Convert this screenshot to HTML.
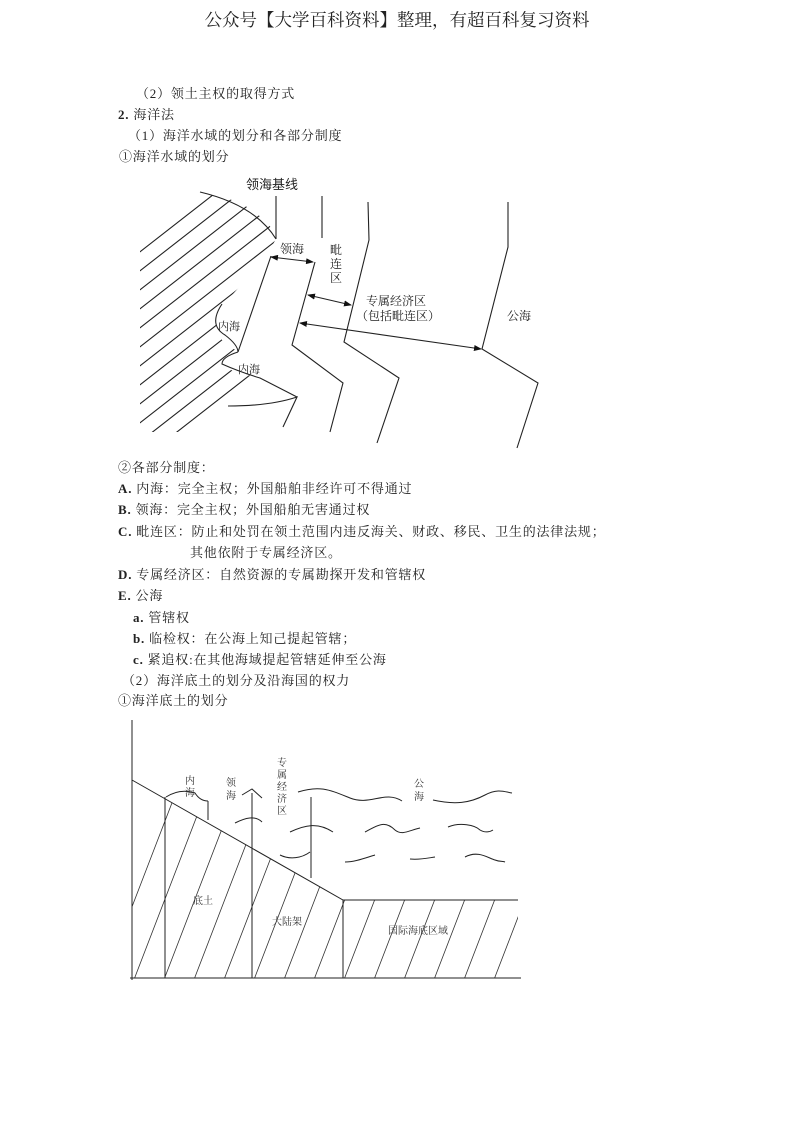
<!DOCTYPE html>
<html><head><meta charset="utf-8"><style>
body{margin:0;background:#fff}
svg{display:block}
text{font-family:"Liberation Serif","Noto Serif CJK SC","Noto Sans CJK SC",serif;fill:#222}
.t{font-size:13px;letter-spacing:0.8px}
.s{font-size:10px;fill:#333}
</style></head><body>
<svg width="793" height="1122" viewBox="0 0 793 1122" xmlns="http://www.w3.org/2000/svg">
<defs>
<marker id="ah" markerWidth="8" markerHeight="6" refX="7" refY="3" orient="auto-start-reverse" markerUnits="userSpaceOnUse"><path d="M0,0 L8,3 L0,6 z" fill="#111"/></marker>
<clipPath id="land"><polygon points="140,188 200,192 240,202 268,222 276,239 265,258 225,303 216,325 222,340 238,352 222,360 224,368 255,377 297,397 280,405 230,406 180,432 140,432"/></clipPath>
<clipPath id="sub"><polygon points="132,780 343,900 518,900 518,978 132,978"/></clipPath>
</defs>
<text x="397" y="26" text-anchor="middle" style="font-size:17.5px">公众号【大学百科资料】整理，有超百科复习资料</text>

<text class="t" x="136" y="98">（2）领土主权的取得方式</text>
<text class="t" x="118" y="119"><tspan font-weight="bold">2.</tspan> 海洋法</text>
<text class="t" x="128" y="140">（1）海洋水域的划分和各部分制度</text>
<text class="t" x="119" y="161">①海洋水域的划分</text>

<!-- diagram 1 -->
<g stroke="#222" stroke-width="1.1" fill="none">
<g clip-path="url(#land)">
<path d="M100,283 L300,127 M100,302 L300,146 M100,321 L300,165 M100,340 L300,184 M100,359 L300,203 M100,378 L300,222 M100,397 L300,241 M100,416 L300,260 M100,435 L300,279 M100,454 L300,298 M100,473 L300,317 M100,492 L300,336"/>
</g>
<path d="M200,192 Q255,205 276,239"/>
<path d="M276,196 L276,239"/>
<path d="M322,196 L322,238"/>
<path d="M368,202 L369,240 L344,342 L399,378 L377,443"/>
<path d="M508,202 L508,247 L482,349 L538,383 L517,448"/>
<path d="M315,262 L292,345 L343,383 L330,432"/>
<path d="M271,256 L238,352"/>
<path d="M222,304 Q208,325 225,335 Q238,345 238,352"/>
<path d="M238,352 Q222,357 222,364 Q240,372 260,378 L297,397"/>
<path d="M228,406 Q270,406 297,397 L283,427"/>
<path d="M271,257 L313,262" marker-start="url(#ah)" marker-end="url(#ah)"/>
<path d="M308,295 L351,305" marker-start="url(#ah)" marker-end="url(#ah)"/>
<path d="M300,323 L481,349" marker-start="url(#ah)" marker-end="url(#ah)"/>
</g>
<text x="246" y="189" style="font-size:13px;font-family:'Liberation Sans','Noto Sans CJK SC',sans-serif">领海基线</text>
<text x="280" y="253" style="font-size:12px">领海</text>
<text x="330" y="254" style="font-size:12px">毗</text>
<text x="330" y="268" style="font-size:12px">连</text>
<text x="330" y="282" style="font-size:12px">区</text>
<text x="366" y="305" style="font-size:12px">专属经济区</text>
<text x="356" y="320" style="font-size:12px">（包括毗连区）</text>
<text x="507" y="320" style="font-size:12px">公海</text>
<text x="218" y="330" style="font-size:11px">内海</text>
<text x="238" y="373" style="font-size:11px">内海</text>

<text class="t" x="118" y="472">②各部分制度：</text>
<text class="t" x="118" y="493"><tspan font-weight="bold">A.</tspan> 内海：完全主权；外国船舶非经许可不得通过</text>
<text class="t" x="118" y="514"><tspan font-weight="bold">B.</tspan> 领海：完全主权；外国船舶无害通过权</text>
<text class="t" x="118" y="536"><tspan font-weight="bold">C.</tspan> 毗连区：防止和处罚在领土范围内违反海关、财政、移民、卫生的法律法规；</text>
<text class="t" x="190" y="557">其他依附于专属经济区。</text>
<text class="t" x="118" y="579"><tspan font-weight="bold">D.</tspan> 专属经济区：自然资源的专属勘探开发和管辖权</text>
<text class="t" x="118" y="600"><tspan font-weight="bold">E.</tspan> 公海</text>
<text class="t" x="133" y="622"><tspan font-weight="bold">a.</tspan> 管辖权</text>
<text class="t" x="133" y="643"><tspan font-weight="bold">b.</tspan> 临检权：在公海上知己提起管辖；</text>
<text class="t" x="133" y="664"><tspan font-weight="bold">c.</tspan> 紧追权:在其他海域提起管辖延伸至公海</text>
<text class="t" x="122" y="685">（2）海洋底土的划分及沿海国的权力</text>
<text class="t" x="118" y="705">①海洋底土的划分</text>

<!-- diagram 2 -->
<g stroke="#222" stroke-width="1" fill="none">
<g clip-path="url(#sub)" stroke-width="0.8" stroke="#333">
<path d="M100,990 L200,730 M130,990 L230,730 M160,990 L260,730 M190,990 L290,730 M220,990 L320,730 M250,990 L350,730 M280,990 L380,730 M310,990 L410,730 M340,990 L440,730 M370,990 L470,730 M400,990 L500,730 M430,990 L530,730 M460,990 L560,730 M490,990 L590,730 M520,990 L620,730"/>
</g>
<path d="M132,720 L132,980"/>
<path d="M130,978 L521,978"/>
<path d="M132,780 L343,900 L518,900"/>
<path d="M165,797 L165,978"/>
<path d="M252,793 L252,978"/>
<path d="M311,797 L311,878"/>
<path d="M343,900 L343,978"/>
<path d="M208,801 L208,820"/>
<path d="M166,797 Q180,788 195,793 Q200,801 208,801"/>
<path d="M242,795 L252,789 L262,798"/>
<path d="M298,792 C320,785 330,790 350,798 C370,806 385,790 402,801"/>
<path d="M433,800 C455,805 470,803 485,795 C498,788 505,792 512,793"/>
<path d="M235,823 C245,818 255,815 262,822"/>
<path d="M290,832 C305,825 318,822 333,832"/>
<path d="M365,832 C378,825 385,820 395,830 C402,836 410,830 420,828"/>
<path d="M448,827 C460,822 475,825 480,830 C485,833 490,832 493,830"/>
<path d="M280,855 C290,860 302,858 310,852"/>
<path d="M345,862 C355,862 365,858 375,855"/>
<path d="M410,859 C420,860 428,858 435,857"/>
<path d="M465,857 C478,850 488,858 495,860 C500,862 503,861 505,862"/>
</g>
<text class="s" x="185" y="784">内</text>
<text class="s" x="185" y="796">海</text>
<text class="s" x="226" y="786">领</text>
<text class="s" x="226" y="799">海</text>
<text class="s" x="277" y="766">专</text>
<text class="s" x="277" y="778">属</text>
<text class="s" x="277" y="790">经</text>
<text class="s" x="277" y="802">济</text>
<text class="s" x="277" y="814">区</text>
<text class="s" x="414" y="787">公</text>
<text class="s" x="414" y="800">海</text>
<text class="s" x="193" y="904">底土</text>
<text class="s" x="272" y="925">大陆架</text>
<text class="s" x="388" y="934">国际海底区域</text>
</svg>
</body></html>
